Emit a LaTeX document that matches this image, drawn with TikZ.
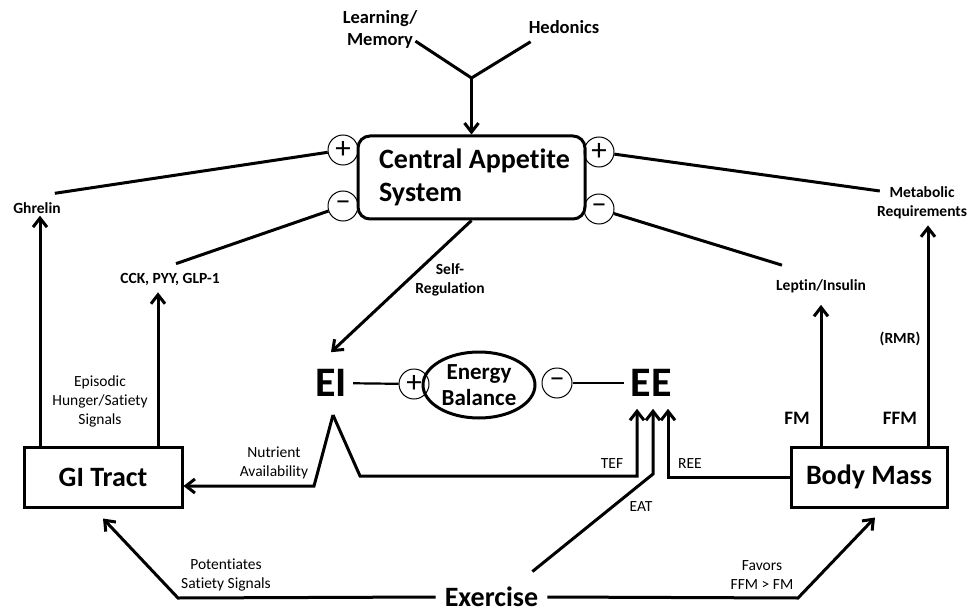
\documentclass[tikz,border=0pt]{standalone}
\usepackage{fontspec}
\setmainfont{Carlito}[Ligatures={TeX,NoCommon}]
\usetikzlibrary{arrows.meta,shapes.geometric}
\tikzset{
  lnk/.style={line width=3pt},
  arr/.style={line width=3pt,-{Straight Barb[length=9pt,width=14pt]}},
  sgn/.style={circle,draw,line width=1pt,minimum size=30pt,inner sep=0pt,font=\fontsize{31}{31}\selectfont},
  box/.style={draw,line width=3pt,font=\bfseries\fontsize{28}{33}\selectfont},
  big/.style={inner sep=6pt,font=\bfseries\fontsize{42}{42}\selectfont},
  lbl/.style={align=center,inner sep=2pt,font=\fontsize{15.5}{19}\selectfont},
  blbl/.style={align=center,inner sep=2pt,font=\bfseries\fontsize{15.5}{19}\selectfont},
}
\begin{document}
\begin{tikzpicture}[x=1pt,y=-1pt]
\useasboundingbox (0,0) rectangle (976,612);
% feedback signs
\foreach \nm/\x/\y/\s in {pl/343/150/+,ml/343/206/--,pr/599/152/+,mr/599/209/--,pe/414/384/+,me/557/383/--} {
  \node[sgn] (\nm) at (\x,\y) {\s};
}
\node[box,rounded corners=12pt,minimum width=227pt,minimum height=83pt,align=left] (cas) at (471.5,177.5) {\hspace*{6pt}Central Appetite\\\hspace*{6pt}System};
% inputs on top
\node[blbl,font=\bfseries\fontsize{18.5}{22}\selectfont] (learn) at (380,29) {Learning/\\Memory};
\node[blbl,font=\bfseries\fontsize{18.5}{22}\selectfont] (hed) at (564,27) {Hedonics};
\coordinate (fork) at (471.5,78);
\draw[lnk] ([shift={(-4pt,9pt)}]learn.south east) -- (fork) -- ([shift={(4pt,-6pt)}]hed.south west);
\draw[arr] (fork) -- (cas.north);
% hormones
\node[blbl] (ghr) at (37,208) {Ghrelin};
\node[blbl] (cck) at (170,279) {CCK, PYY, GLP-1};
\node[blbl] (lep) at (821,286) {Leptin/Insulin};
\node[blbl] (met) at (922,203) {Metabolic\\Requirements};
\draw[lnk] ([shift={(-8pt,7pt)}]ghr.north east) -- (pl);
\draw[lnk] ([shift={(6pt,7pt)}]cck.north) -- (ml);
\draw[lnk] ([shift={(8pt,12pt)}]lep.north west) -- (mr);
\draw[lnk] ([shift={(5pt,12pt)}]met.west) -- (pr);
% boxes
\node[box,minimum width=158pt,minimum height=60pt] (gi) at (103,477) {GI Tract};
\node[box,minimum width=156pt,minimum height=60pt] (bm) at (869,477) {Body Mass};
\draw[arr] ([xshift=3pt]ghr.south |- gi.north) -- ([xshift=3pt]ghr.south);
\draw[arr] ([xshift=-12pt]cck.south |- gi.north) -- ([shift={(-12pt,-5pt)}]cck.south);
\node[lbl] (epi) at (100,401) {Episodic\\Hunger/Satiety\\Signals};
\draw[arr] (lep.south |- bm.north) -- ([yshift=-10pt]lep.south);
\draw[arr] ([xshift=6pt]met.south |- bm.north) -- ([shift={(6pt,-4pt)}]met.south);
\node[blbl,font=\bfseries\fontsize{19}{19}\selectfont] (fm) at (797,418) {FM};
\node[blbl,font=\bfseries\fontsize{19}{19}\selectfont] (ffm) at (900,418) {FFM};
\node[blbl] (rmr) at (900,339) {(RMR)};
% energy balance
\node[big] (ei) at (331,383) {EI};
\node[big] (ee) at (651,383) {EE};
\node[ellipse,draw,line width=3pt,minimum width=112pt,minimum height=66pt,inner sep=0pt,align=center,font=\bfseries\fontsize{23}{26}\selectfont] (eb) at (479,385) {Energy\\Balance};
\draw[line width=2.2pt] (ei) -- (pe);
\draw[line width=2.2pt] (me) -- (ee);
\draw[arr] (cas.south) -- ([yshift=11pt]ei.north);
\node[blbl] (slf) at (450,280) {Self-\\Regulation};
% expenditure feeds
\coordinate (pk) at (333,415);
\coordinate (tef) at ([shift={(-14pt,-6pt)}]ee.south);
\coordinate (eat) at ([shift={(2pt,-6pt)}]ee.south);
\coordinate (ree) at ([shift={(17pt,-6pt)}]ee.south);
\draw[arr] (pk) -- (314,486) -- ([yshift=-9pt]gi.east);
\draw[arr] (pk) -- (360,476) -| (tef);
\draw[arr] (bm.west) -| (ree);
\node[lbl] (nut) at (274,463) {Nutrient\\Availability};
\node[lbl] (teft) at (612,464) {TEF};
\node[lbl] (eatt) at (641,507) {EAT};
\node[lbl] (reet) at (690,464) {REE};
% exercise
\node[inner xsep=9pt,font=\bfseries\fontsize{28}{28}\selectfont] (ex) at (491.5,597) {Exercise};
\draw[arr] ([shift={(-15pt,12pt)}]ex.north east) -- (eat |- 0,474) -- (eat);
\draw[arr] (ex.west) -- (178,598) -- ([yshift=-10pt]gi.south);
\draw[arr] (ex.east) -- (798,598) -- ([shift={(6pt,-9pt)}]bm.south);
\node[lbl] (pot) at (226,575) {Potentiates\\Satiety Signals};
\node[lbl] (fav) at (762,575) {Favors\\FFM > FM};
\end{tikzpicture}
\end{document}
